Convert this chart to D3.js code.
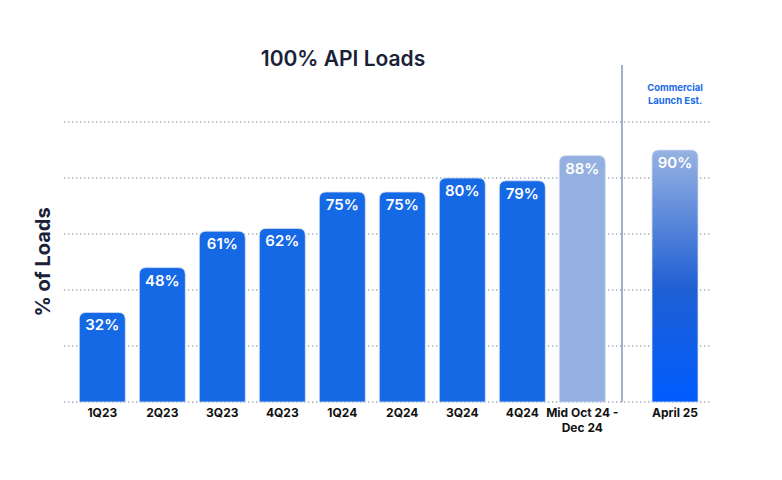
<!DOCTYPE html>
<html><head><meta charset="utf-8">
<script src="https://cdn.jsdelivr.net/npm/d3@7"></script>
<style>body{margin:0;background:#fff;} text{font-family:Inter, "Open Sans", sans-serif;}</style>
</head><body>
<svg id="c" width="782" height="480"></svg>
<script>
const categories = ["1Q23","2Q23","3Q23","4Q23","1Q24","2Q24","3Q24","4Q24","Mid Oct 24 -|Dec 24"];
const values = [32,48,61,62,75,75,80,79,88];
const estCategories = ["April 25"];
const estValues = [90];
const yTicks = [0,20,40,60,80,100];
const title = "100% API Loads";
const yTitle = "% of Loads";
const estNote = ["Commercial","Launch Est."];

const svg = d3.select("#c");
const y = d3.scaleLinear().domain([0,100]).range([402,122]);
const x = d3.scaleBand().domain(categories).range([72.3,612.3]).paddingInner(0.2333).paddingOuter(0.1167);
const x2 = d3.scaleBand().domain(estCategories).range([645,705]).paddingInner(0.2333).paddingOuter(0.1167);

const defs = svg.append("defs");
const g = defs.append("linearGradient").attr("id","est").attr("x1",0).attr("y1",0).attr("x2",0).attr("y2",1);
g.append("stop").attr("offset","0%").attr("stop-color","#97b2e2");
g.append("stop").attr("offset","55%").attr("stop-color","#1f5fd3");
g.append("stop").attr("offset","100%").attr("stop-color","#005cff");

// gridlines
svg.append("g").selectAll("line").data(yTicks).join("line")
  .attr("x1",64).attr("x2",712).attr("y1",d=>y(d)).attr("y2",d=>y(d))
  .attr("stroke","#9aa6b6").attr("stroke-width",1.3).attr("stroke-dasharray","1.3 2.7");

// divider
svg.append("line").attr("x1",622).attr("x2",622).attr("y1",65).attr("y2",402)
  .attr("stroke","#9fb0cc").attr("stroke-width",2);

function barPath(x0,w,top,bottom,r){
  return `M${x0},${bottom}V${top+r}Q${x0},${top} ${x0+r},${top}H${x0+w-r}Q${x0+w},${top} ${x0+w},${top+r}V${bottom}Z`;
}
const all = categories.map((c,i)=>({c,v:values[i],scale:x,fill:i===categories.length-1?"#93b0e0":"#1569e5"}))
  .concat(estCategories.map((c,i)=>({c,v:estValues[i],scale:x2,fill:"url(#est)"})));

svg.append("g").selectAll("path").data(all).join("path")
  .attr("d",d=>barPath(d.scale(d.c),d.scale.bandwidth(),y(d.v),y(0),7))
  .attr("fill",d=>d.fill).attr("stroke","#d5e0f3").attr("stroke-width",0.8);

svg.append("g").selectAll("text").data(all).join("text")
  .attr("x",d=>d.scale(d.c)+d.scale.bandwidth()/2).attr("y",d=>y(d.v)+18)
  .attr("text-anchor","middle").attr("fill","#fff").attr("font-size",15).attr("font-weight",600)
  .text(d=>d.v+"%");

// x labels
const xl = svg.append("g").selectAll("text").data(all).join("text")
  .attr("text-anchor","middle").attr("font-size",12).attr("font-weight",700).attr("fill","#111")
  .attr("x",d=>d.scale(d.c)+d.scale.bandwidth()/2).attr("y",417);
xl.each(function(d){
  const parts=d.c.split("|");
  d3.select(this).selectAll("tspan").data(parts).join("tspan")
    .attr("x",d.scale(d.c)+d.scale.bandwidth()/2).attr("dy",(p,i)=>i?15:0).text(p=>p);
});

svg.append("text").attr("x",343).attr("y",66).attr("text-anchor","middle")
  .attr("font-size",21).attr("font-weight",600).attr("fill","#1a2238").text(title);

svg.append("text").attr("transform","translate(50,262) rotate(-90)").attr("text-anchor","middle")
  .attr("font-size",20).attr("font-weight",700).attr("fill","#1a2238").text(yTitle);

svg.append("g").selectAll("text").data(estNote).join("text")
  .attr("x",675).attr("y",(d,i)=>91+i*12.5).attr("text-anchor","middle")
  .attr("font-size",9.5).attr("font-weight",700).attr("fill","#1a6be6").text(d=>d);
</script>
</body></html>
